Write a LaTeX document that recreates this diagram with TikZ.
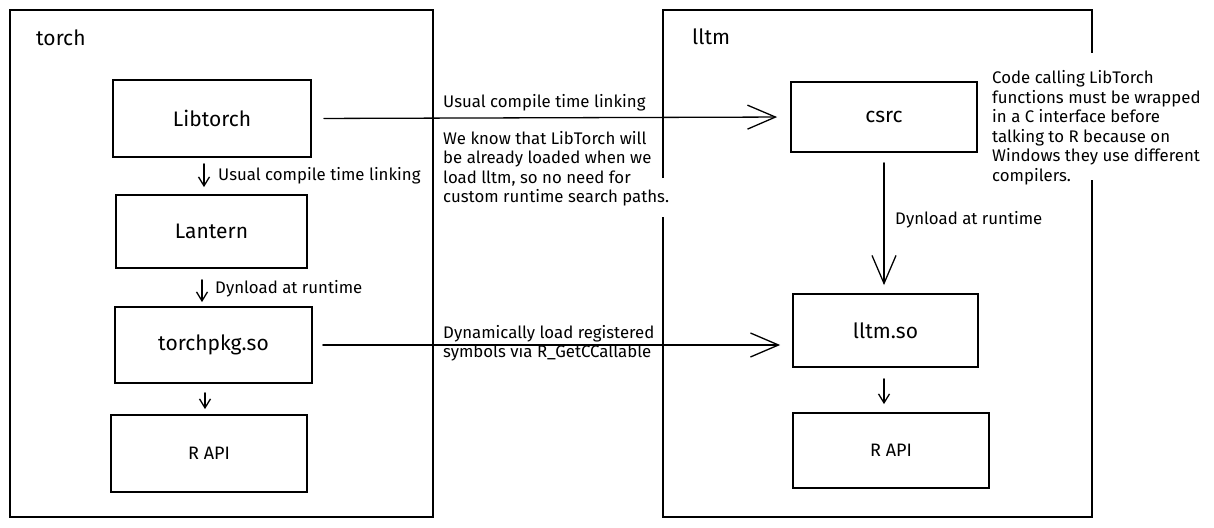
\documentclass[tikz,border=0pt]{standalone}
\usepackage{fontspec}
\setmainfont{Fira Sans}
\usetikzlibrary{arrows.meta}
\newcommand{\notesize}{\fontsize{16.8}{19.5}\selectfont}
\newcommand{\boxsize}{\fontsize{21}{25}\selectfont}
\newcommand{\apisize}{\fontsize{18}{22}\selectfont}

\begin{document}
\begin{tikzpicture}[x=1pt, y=-1pt,
  box/.style={draw, line width=1.8pt, inner sep=0pt, font=\boxsize},
  frame/.style={line width=1.4pt},
  note/.style={inner sep=0pt, anchor=west, align=left, font=\notesize},
  bigarr/.style={line width=1.3pt, line cap=round, -{Straight Barb[length=28pt, width=24pt]}},
  smallarr/.style={line width=1.3pt, line cap=round, -{Straight Barb[length=9pt, width=11pt]}}]
\useasboundingbox (0,0) rectangle (1214,527);

% torch package
\draw[frame] (10,10) rectangle (433,517);
\node[note, font=\boxsize] (torch) at (36,38) {torch};

\node[box, minimum width=198pt, minimum height=77pt] (libtorch) at (212,118.5) {Libtorch};
\node[box, minimum width=191pt, minimum height=73pt] (lantern) at (211.5,231.5) {Lantern};
\node[box, minimum width=197pt, minimum height=76pt] (torchpkg) at (213.5,345) {torchpkg.so};
\node[box, minimum width=196pt, minimum height=77pt, font=\apisize] (rapitorch) at (209,453.5) {R API};

\draw[smallarr, shorten <=6pt, shorten >=7pt] ([xshift=-8pt]libtorch.south) -- ([xshift=-8pt]libtorch.south |- lantern.north);
\node[note] (linkdown) at (218,176) {Usual compile time linking};
\draw[smallarr, shorten <=11pt, shorten >=4pt] ([xshift=-9.5pt]lantern.south) -- ([xshift=-9.5pt]lantern.south |- torchpkg.north);
\node[note] (dynleft) at (215,289) {Dynload at runtime};
\draw[smallarr, shorten <=9pt, shorten >=5pt] ([xshift=-8.5pt]torchpkg.south) -- ([xshift=-8.5pt]torchpkg.south |- rapitorch.north);

% lltm package, border broken where the notes sit
\draw[frame] (663,178) -- (663,10) -- (1092,10) -- (1092,53);
\draw[frame] (1092,180) -- (1092,517) -- (663,517) -- (663,217);
\node[note, font=\boxsize] (lltm) at (692,37) {lltm};

\node[box, minimum width=186pt, minimum height=70pt] (csrc) at (884,117) {csrc};
\node[box, minimum width=185pt, minimum height=73pt] (lltmso) at (885.5,330.5) {lltm.so};
\node[box, minimum width=196pt, minimum height=75pt, font=\apisize] (rapilltm) at (891,450.5) {R API};

\draw[bigarr, shorten <=10pt, shorten >=8pt] (csrc.south) -- (csrc.south |- lltmso.north);
\node[note] (dynright) at (895,220) {Dynload at runtime};
\draw[smallarr, shorten <=11pt, shorten >=8pt] ([xshift=-1.5pt]lltmso.south) -- ([xshift=-1.5pt]lltmso.south |- rapilltm.north);

\node[note] (wrapnote) at (992,127.5) {Code calling LibTorch\\functions must be wrapped\\in a C interface before\\talking to R because on\\Windows they use different\\compilers.};

% links between the packages
\draw[bigarr, shorten <=12pt, shorten >=13pt] (libtorch.east) -- (csrc.west);
\node[note] (linkacross) at (443,103) {Usual compile time linking};
\node[note] (loadednote) at (443,168.5) {We know that LibTorch will\\be already loaded when we\\load lltm, so no need for\\custom runtime search paths.};

\draw[bigarr, shorten <=10pt, shorten >=12pt] (torchpkg.east) -- (torchpkg.east -| lltmso.west);
\node[note] (callable) at (443,343) {Dynamically load registered\\symbols via R\_GetCCallable};

\end{tikzpicture}
\end{document}
